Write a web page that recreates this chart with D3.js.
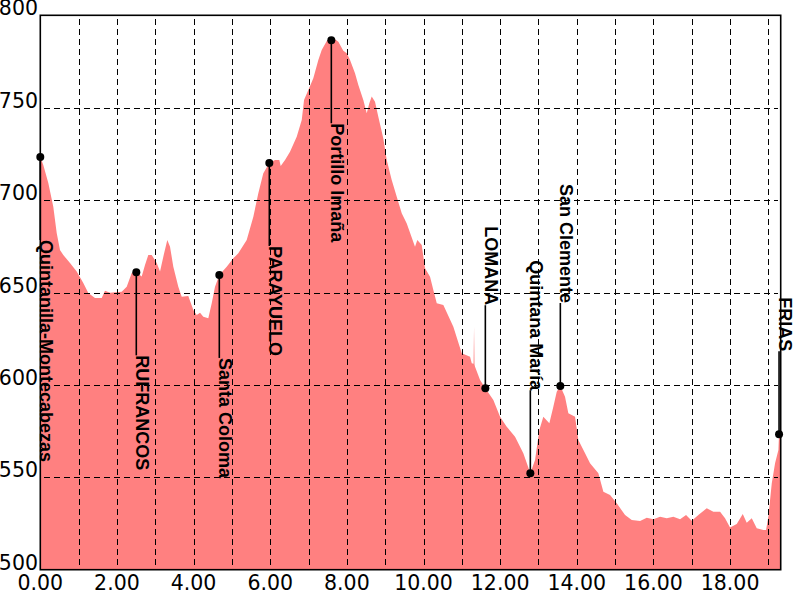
<!DOCTYPE html>
<html>
<head>
<meta charset="utf-8">
<script src="https://cdn.jsdelivr.net/npm/d3@7"></script>
<style>
  body { margin: 0; background: #fff; }
  svg { display: block; }
</style>
</head>
<body>
<div class="profile"></div>
<script>
// distance (km) and elevation (m)
const distance = [
  0, 0.078, 0.209, 0.339, 0.428, 0.514, 0.6, 0.775, 0.95, 1.122, 1.253, 1.427, 1.602, 1.688, 1.819,
  2.124, 2.255, 2.385, 2.505, 2.646, 2.732, 2.818, 2.907, 3.038, 3.124, 3.21, 3.314, 3.385, 3.471,
  3.601, 3.69, 3.862, 3.993, 4.081, 4.168, 4.254, 4.384, 4.473, 4.559, 4.671, 4.864, 5.037, 5.167,
  5.386, 5.559, 5.689, 5.819, 5.976, 6.125, 6.237, 6.273, 6.386, 6.516, 6.691, 6.822, 6.882, 6.994,
  7.124, 7.255, 7.343, 7.49, 7.594, 7.69, 7.777, 7.907, 7.996, 8.082, 8.212, 8.299, 8.429, 8.518,
  8.586, 8.648, 8.734, 8.82, 8.951, 9.04, 9.17, 9.301, 9.431, 9.562, 9.778, 9.838, 9.953, 10.039,
  10.17, 10.256, 10.345, 10.517, 10.778, 10.997, 11.214, 11.258, 11.305, 11.318, 11.331, 11.344,
  11.475, 11.613, 11.822, 11.997, 12.171, 12.388, 12.604, 12.787, 12.91, 13.022, 13.126, 13.283,
  13.387, 13.476, 13.57, 13.692, 13.779, 13.954, 14.04, 14.215, 14.345, 14.562, 14.693, 14.867,
  15.042, 15.259, 15.433, 15.65, 15.825, 15.997, 16.172, 16.347, 16.519, 16.694, 16.85, 16.999,
  17.171, 17.39, 17.563, 17.738, 17.868, 17.998, 18.173, 18.33, 18.434, 18.565, 18.695, 18.868,
  18.938, 18.998, 19.087, 19.173, 19.26, 19.277, 19.32
];
const elevation = [
  723.3, 719.0, 709.3, 696.4, 682.2, 673.0, 670.3, 665.9, 661.3, 655.1, 649.7, 647.0, 647.0, 651.0, 649.9,
  650.4, 653.1, 660.6, 660.9, 658.6, 664.9, 670.3, 670.3, 665.9, 661.3, 669.4, 678.4, 674.8, 664.0,
  653.1, 647.7, 648.1, 640.5, 637.8, 639.1, 636.9, 636.0, 644.2, 653.1, 659.5, 664.0, 668.5, 671.2,
  678.4, 691.0, 703.7, 714.5, 720.1, 721.7, 721.7, 718.5, 721.7, 726.2, 734.3, 743.3, 754.2, 759.6,
  765.9, 775.8, 781.2, 786.6, 786.5, 787.0, 785.7, 780.8, 779.4, 775.8, 768.6, 762.3, 754.2, 747.0,
  752.4, 756.0, 753.2, 745.1, 733.4, 721.7, 710.9, 701.8, 692.9, 687.4, 674.8, 678.4, 675.7, 663.1,
  658.5, 651.4, 644.2, 643.2, 631.5, 617.1, 615.3, 611.7, 611.5, 631.5, 611.0, 609.8,
  602.6, 598.2, 591.8, 582.8, 577.4, 572.0, 563.0, 552.2, 559.4, 575.6, 582.8, 579.2,
  588.2, 596.3, 599.4, 593.6, 584.6, 582.8, 570.2, 563.0, 557.6, 552.2, 542.2, 540.4,
  535.9, 529.6, 526.9, 526.4, 528.1, 527.3, 528.7, 527.8, 528.7, 527.3, 529.6, 526.5,
  529.6, 533.2, 531.4, 531.4, 527.8, 522.9, 524.7, 530.1, 525.4, 527.8, 522.4, 521.5,
  521.5, 528.7, 546.8, 557.6, 564.8, 573.3, 575.0
];

// named places along the route
const placeNames = [
  'Quintanilla-Montecabezas', 'RUFRANCOS', 'Santa Coloma', 'PARAYUELO', 'Portillo Imaña',
  'LOMANA', 'Quintana María', 'San Clemente', 'FRIAS'
];
const placeKm = [0, 2.505, 4.671, 5.976, 7.594, 11.613, 12.787, 13.57, 19.277];
const placeElev = [723.3, 660.9, 659.5, 720.1, 786.5, 598.2, 552.2, 599.4, 573.3];

const yTicks = [500, 550, 600, 650, 700, 750, 800];
const xTicks = [0, 2, 4, 6, 8, 10, 12, 14, 16, 18];
const xGrid = d3.range(1, 20);

// label goes below (1) or above (-1) the point
const labelSide = [1, 1, 1, 1, 1, -1, -1, -1, -1];
const leader = 83;

const width = 800, height = 600;
const plot = { left: 40.3, right: 780.7, top: 15.3, bottom: 569.7 };

const x = d3.scaleLinear().domain([0, 19.32]).range([plot.left, plot.right]);
const y = d3.scaleLinear().domain([500, 800]).range([plot.bottom, plot.top]);

const svg = d3.select('.profile').append('svg')
  .attr('width', width)
  .attr('height', height);

const points = distance.map((d, i) => ({ km: d, elev: elevation[i] }));

const area = d3.area()
  .x(d => x(d.km))
  .y0(y(500))
  .y1(d => y(d.elev));

svg.append('path')
  .datum(points)
  .attr('d', area)
  .attr('fill', '#ff8080');

// dashed grid
const grid = svg.append('g')
  .attr('stroke', '#000')
  .attr('stroke-width', 1)
  .attr('stroke-dasharray', '6,4')
  .attr('shape-rendering', 'crispEdges');

grid.selectAll('.hgrid')
  .data(yTicks.slice(1, -1))
  .join('line')
  .attr('class', 'hgrid')
  .attr('x1', plot.left + 4).attr('x2', plot.right - 3)
  .attr('y1', d => Math.round(y(d)) + 0.5)
  .attr('y2', d => Math.round(y(d)) + 0.5);

grid.selectAll('.vgrid')
  .data(xGrid)
  .join('line')
  .attr('class', 'vgrid')
  .attr('y1', plot.top + 4).attr('y2', plot.bottom)
  .attr('x1', d => Math.round(x(d)) + 0.5)
  .attr('x2', d => Math.round(x(d)) + 0.5);

// frame
svg.append('rect')
  .attr('x', plot.left).attr('y', plot.top)
  .attr('width', plot.right - plot.left).attr('height', plot.bottom - plot.top)
  .attr('fill', 'none')
  .attr('stroke', '#000')
  .attr('stroke-width', 1.6);

// tick labels
svg.append('g')
  .selectAll('text')
  .data(yTicks)
  .join('text')
  .attr('x', 38)
  .attr('y', d => y(d))
  .attr('text-anchor', 'end')
  .style('font-family', 'DejaVu Sans, sans-serif')
  .style('font-size', '20.5px')
  .text(d => d);

svg.append('g')
  .selectAll('text')
  .data(xTicks)
  .join('text')
  .attr('x', d => x(d))
  .attr('y', 590)
  .attr('text-anchor', 'middle')
  .style('font-family', 'DejaVu Sans, sans-serif')
  .style('font-size', '20.5px')
  .text(d => d3.format('.2f')(d));

// place markers
const places = placeNames.map((name, i) => ({
  name, km: placeKm[i], elev: placeElev[i], side: labelSide[i]
}));

const marks = svg.append('g')
  .selectAll('g')
  .data(places)
  .join('g')
  .attr('transform', d => `translate(${x(d.km)},${y(d.elev)})`);

marks.append('line')
  .attr('x1', 0).attr('x2', 0)
  .attr('y1', 0)
  .attr('y2', d => d.side * leader)
  .attr('stroke', '#000')
  .attr('stroke-width', 1.6);

marks.append('circle')
  .attr('r', 4)
  .attr('fill', '#000');

marks.append('text')
  .attr('transform', d => `translate(0,${d.side * leader}) rotate(90)`)
  .attr('text-anchor', d => d.side > 0 ? 'start' : 'end')
  .style('font-family', 'Liberation Sans, Arial, sans-serif')
  .style('font-weight', 'bold')
  .style('font-size', '18px')
  .text(d => d.name);
</script>
</body>
</html>
